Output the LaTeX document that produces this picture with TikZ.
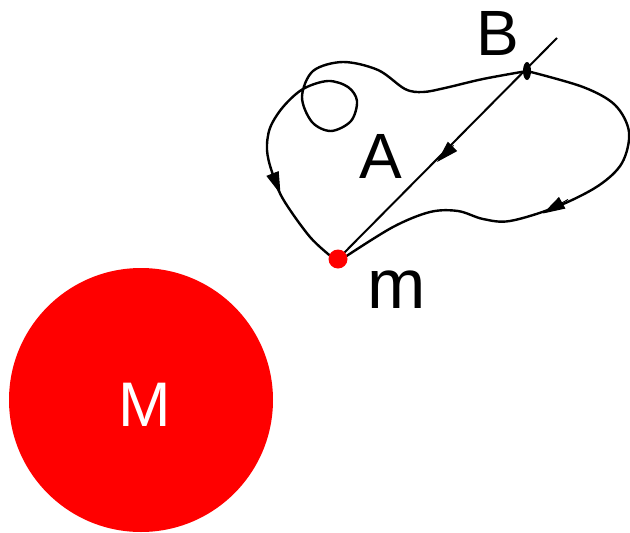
\documentclass[tikz,border=0pt]{standalone}
\usepackage{fontspec}
\setmainfont{Liberation Sans}
\usetikzlibrary{arrows.meta,shapes.geometric}
\definecolor{pred}{RGB}{255,0,0}
\tikzset{
  curve/.style={line width=2.4pt, line join=round},
  ray/.style={line width=2pt},
  arr/.style={line width=1pt, -{Triangle[length=22pt,width=13pt]}},
  lbl/.style={inner sep=0pt, anchor=base},
}
\begin{document}
\begin{tikzpicture}[x=1pt,y=-1pt]
\useasboundingbox (0,0) rectangle (630,533);
% big mass
\node[circle, fill=pred, minimum size=264pt, inner sep=0pt] (Mc) at (141,400) {};
\node[lbl, text=white, font=\fontsize{63}{63}\selectfont] (M) at (145,426.7) {M};
% points
\coordinate (m) at (338,259);
\coordinate (B) at (527,71);
\coordinate (E) at (557,38);
% left path: B -> loop -> m
\draw[curve] plot[smooth, tension=0.55] coordinates {
 (527,71) (483,79) (445,88) (423,92) (405,89) (378,70) (343,62) (313,71)
 (302,97) (312,122) (331,131) (351,121) (357,101) (348,87) (328,81)
 (303,89) (283,107) (270,128) (267,150) (272,172) (283,199) (310,237) (333,258)};
% right path: B -> right -> m
\draw[curve] plot[smooth, tension=0.55] coordinates {
 (527,71) (583,87) (615,105) (629,132) (622,163) (598,186) (556,207)
 (510,221) (483,219) (458,211) (430,212) (393,227) (345,257)};
% ray through B to m
\draw[ray] (E) -- (m);
% B marker
\node[ellipse, fill=black, minimum width=8pt, minimum height=18pt, inner sep=0pt, draw=none] (Bm) at (B) {};
% arrowheads
\draw[arr] (453.5,145.4) -- (437,162);
\draw[arr] (270,167) -- (280.5,194);
\draw[arr] (568,199.5) -- (543,213.5);
% small mass
\node[circle, fill=pred, minimum size=19pt, inner sep=0pt] (md) at (m) {};
% labels
\node[lbl, font=\fontsize{64}{64}\selectfont] (Bl) at (498,55) {B};
\node[lbl, font=\fontsize{64}{64}\selectfont] (Al) at (381,178.3) {A};
\node[lbl, font=\fontsize{70}{70}\selectfont] (ml) at (397,308.3) {m};
\end{tikzpicture}
\end{document}
